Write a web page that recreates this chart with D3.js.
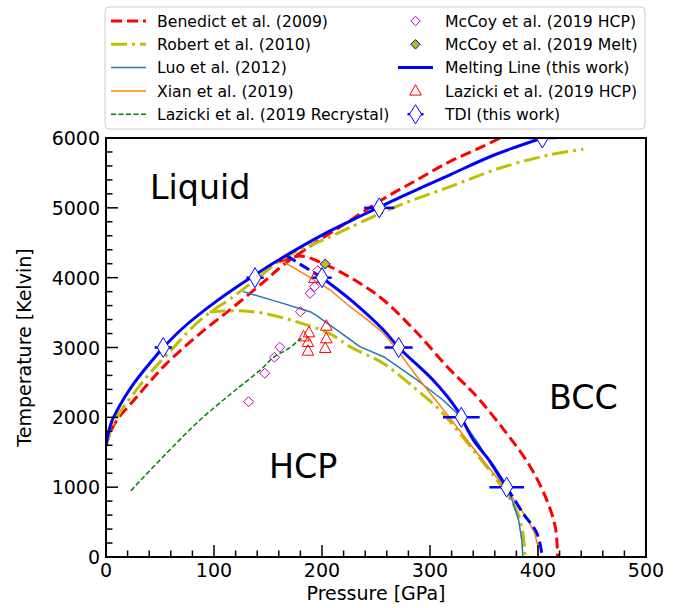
<!DOCTYPE html>
<html><head><meta charset="utf-8">
<script src="https://cdn.jsdelivr.net/npm/d3@7"></script>
<style>body{margin:0;background:#fff}svg{display:block;font-family:"DejaVu Sans",sans-serif}</style>
</head><body><svg id="c" width="684" height="608"></svg>
<script>
// ---- data: [pressure GPa, temperature K] ----
const benedictMelt = [[0,1600],[5,1820],[12,2000],[25,2230],[40,2500],[56,2770],[87,3200],[118,3580],[146,3940],[164,4180],[190,4460],[226,4820],[257,5130],[288,5400],[318,5660],[349,5880],[365,6000]];
const benedictHcpBcc = [[160,4230],[180,4310],[207,4160],[235,3920],[257,3680],[288,3210],[318,2690],[337,2400],[346,2250],[371,1770],[393,1290],[408,820],[416,430],[418,50],[418,0]];
const robertMelt = [[0,1600],[5,1840],[12,2050],[25,2330],[40,2620],[56,2890],[87,3390],[118,3730],[140,3990],[167,4300],[204,4560],[226,4720],[272,5040],[318,5300],[365,5570],[411,5760],[442,5840]];
const robertHcpBcc = [[96,3510],[124,3525],[146,3490],[176,3370],[207,3200],[226,3010],[257,2770],[288,2390],[309,2105],[340,1530],[362,1100],[380,670],[386,340],[388,0]];
const luo = [[127,3800],[160,3650],[189,3513],[194,3466],[214,3250],[235,3012],[257,2868],[288,2535],[312,2248],[325,2058],[345,1620],[365,1103],[376,816],[382,530],[385,243],[386,0]];
const xian = [[164,4230],[185,4040],[207,3830],[226,3584],[241,3410],[257,3204],[272,2916],[288,2582],[315,2058],[340,1560],[371,960],[389,577],[397,339],[400,148],[400,0]];
const lazickiRecrystal = [[23,950],[56,1485],[87,1962],[118,2367],[143,2680],[156,2870],[167,2965],[181,3130]];
const meltThisWork = [[0,1590],[2,1760],[5,1930],[10,2090],[17,2280],[25,2470],[35,2670],[44,2840],[53,3000],[72,3290],[102,3660],[130,3960],[167,4320],[200,4610],[226,4810],[253,5010],[285,5240],[318,5470],[360,5760],[404,6000]];
const hcpBccDashedTop = [[167,4320],[180,4190],[200,4000]];
const hcpBccSolid = [[200,4000],[226,3690],[257,3250],[271,3000],[303,2530],[325,2110],[329,2000],[340,1680],[356,1360],[371,1000]];
const hcpBccDashedBottom = [[371,1000],[386,630],[399,340],[404,0]];
const mccoyHcp = [[132,2224],[147,2631],[156,2860],[161,3003],[180,3513],[189,3776],[193,3871],[196,4100]];
const mccoyMelt = [[203,4196]];
const lazickiHcp = [[183,3155],[188,3212],[187,3075],[187,2950],[204,3308],[204,3127],[203,2989],[193,3990]];
const tdiP = [53,138,200,253,404,271,329,371];
const tdiT = [3000,4000,4000,5000,6000,3000,2000,1000];
const tdiErr = [8,8,9,14,13,13,17,16];
const xTicks = [0,100,200,300,400,500];
const yTicks = [0,1000,2000,3000,4000,5000,6000];
const legendLabels = ["Benedict et al. (2009)","Robert et al. (2010)","Luo et al. (2012)","Xian et al. (2019)","Lazicki et al. (2019 Recrystal)","McCoy et al. (2019 HCP)","McCoy et al. (2019 Melt)","Melting Line (this work)","Lazicki et al. (2019 HCP)","TDI (this work)"];

const svg = d3.select("#c");
const L=106,R=646,T=138,B=557;
const x = d3.scaleLinear().domain([0,500]).range([L,R]);
const y = d3.scaleLinear().domain([0,6000]).range([B,T]);

svg.append("defs").append("clipPath").attr("id","clip").append("rect")
  .attr("x",L).attr("y",T).attr("width",R-L).attr("height",B-T);
const g = svg.append("g").attr("clip-path","url(#clip)");

const YEL="#bfbf00", MAG="#bf00bf";
const smooth = d3.line().x(d=>x(d[0])).y(d=>y(d[1])).curve(d3.curveCatmullRom.alpha(0.5));
const lin = d3.line().x(d=>x(d[0])).y(d=>y(d[1]));
const styles = {
  benedict:{stroke:"#ff0000",w:3,dash:"11,5"},
  robert:{stroke:YEL,w:3,dash:"16,5,3,5"},
  luo:{stroke:"#1f77b4",w:1.5,dash:null},
  xian:{stroke:"#ff7f0e",w:1.5,dash:null},
  green:{stroke:"#008000",w:1.5,dash:"5,2.5"},
  melt:{stroke:"#0000ff",w:3,dash:null},
  meltDash:{stroke:"#0000ff",w:3,dash:"11,5"}
};
function path(data, st, gen){
  g.append("path").attr("d",gen(data)).attr("fill","none").attr("stroke",st.stroke)
   .attr("stroke-width",st.w).attr("stroke-dasharray",st.dash).attr("stroke-linejoin","round");
}
path(benedictMelt,styles.benedict,smooth);
path(benedictHcpBcc,styles.benedict,smooth);
path(robertMelt,styles.robert,smooth);
path(robertHcpBcc,styles.robert,smooth);
path(luo,styles.luo,lin);
path(xian,styles.xian,lin);
path(lazickiRecrystal,styles.green,smooth);

function diamond(sel,cx,cy,hw,hh){ return sel.append("path").attr("d",`M${cx},${cy-hh}L${cx+hw},${cy}L${cx},${cy+hh}L${cx-hw},${cy}Z`); }
function tri(sel,cx,cy,s){ return sel.append("path").attr("d",`M${cx},${cy-s*0.6}L${cx+s*0.55},${cy+s*0.4}L${cx-s*0.55},${cy+s*0.4}Z`); }

mccoyHcp.forEach(d=>diamond(g,x(d[0]),y(d[1]),5,5).attr("fill","none").attr("stroke",MAG).attr("stroke-width",1));
path(meltThisWork,styles.melt,smooth);
path(hcpBccDashedTop,styles.meltDash,lin);
path(hcpBccSolid,styles.melt,smooth);
path(hcpBccDashedBottom,styles.meltDash,smooth);
mccoyMelt.forEach(d=>diamond(g,x(d[0]),y(d[1]),5,5).attr("fill",YEL).attr("stroke","#0000ff").attr("stroke-width",1));
lazickiHcp.forEach(d=>tri(g,x(d[0]),y(d[1]),10.5).attr("fill","none").attr("stroke","#ff0000").attr("stroke-width",1));
tdiP.forEach((p,i)=>{
  g.append("line").attr("x1",x(p-tdiErr[i])).attr("x2",x(p+tdiErr[i])).attr("y1",y(tdiT[i])).attr("y2",y(tdiT[i]))
   .attr("stroke","#0000ff").attr("stroke-width",2.5);
});
tdiP.forEach((p,i)=>diamond(g,x(p),y(tdiT[i]),6,10).attr("fill","#fff").attr("stroke","#0000ff").attr("stroke-width",1));

// region labels
[["Liquid",150,199],["HCP",269,478],["BCC",549,409]].forEach(t=>svg.append("text").attr("x",t[1]).attr("y",t[2]).attr("font-size",33.3).text(t[0]));

// axes
const ax = svg.append("g");
ax.append("rect").attr("x",L).attr("y",T).attr("width",R-L).attr("height",B-T).attr("fill","none").attr("stroke","#000").attr("stroke-width",2);
d3.range(0,501,20).forEach(v=>{const maj=v%100===0; ax.append("line").attr("x1",x(v)).attr("x2",x(v)).attr("y1",B).attr("y2",B-(maj?12:6.5)).attr("stroke","#000").attr("stroke-width",1.5);});
d3.range(0,6001,200).forEach(v=>{const maj=v%1000===0; ax.append("line").attr("y1",y(v)).attr("y2",y(v)).attr("x1",L).attr("x2",L+(maj?12:6.5)).attr("stroke","#000").attr("stroke-width",1.5);});
xTicks.forEach(v=>ax.append("text").attr("x",x(v)).attr("y",B+20).attr("text-anchor","middle").attr("font-size",19).text(v));
yTicks.forEach(v=>ax.append("text").attr("x",L-6).attr("y",y(v)+7).attr("text-anchor","end").attr("font-size",19).text(v));
ax.append("text").attr("x",(L+R)/2).attr("y",600).attr("text-anchor","middle").attr("font-size",19).text("Pressure [GPa]");
ax.append("text").attr("transform",`translate(31,${(T+B)/2}) rotate(-90)`).attr("text-anchor","middle").attr("font-size",19).text("Temperature [Kelvin]");

// legend
const lg = svg.append("g");
lg.append("rect").attr("x",105).attr("y",7).attr("width",540).attr("height",122).attr("rx",4).attr("fill","#fff").attr("fill-opacity",0.8).attr("stroke","#cccccc").attr("stroke-width",1);
const fs=15.7, rowY=i=>21+i*23.3;
const col=[{h0:111,h1:146,t:157},{h0:398,h1:433,t:445}];
legendLabels.forEach((lab,i)=>{
  const c=col[Math.floor(i/5)], yy=rowY(i%5), cx=(c.h0+c.h1)/2;
  const st=[styles.benedict,styles.robert,styles.luo,styles.xian,styles.green,null,null,styles.melt,null,null][i];
  if(st){ lg.append("line").attr("x1",c.h0).attr("x2",c.h1).attr("y1",yy).attr("y2",yy).attr("stroke",st.stroke).attr("stroke-width",st.w).attr("stroke-dasharray",st.dash); }
  if(i===5) diamond(lg,cx,yy,4.7,4.7).attr("fill","none").attr("stroke",MAG);
  if(i===6) diamond(lg,cx,yy,4.7,4.7).attr("fill",YEL).attr("stroke","#0000ff");
  if(i===8) tri(lg,cx,yy,10.5).attr("fill","none").attr("stroke","#ff0000");
  if(i===9){ lg.append("line").attr("x1",cx-8).attr("x2",cx+8).attr("y1",yy).attr("y2",yy).attr("stroke","#0000ff").attr("stroke-width",2.5);
    diamond(lg,cx,yy,6,9.5).attr("fill","#fff").attr("stroke","#0000ff"); }
  lg.append("text").attr("x",c.t).attr("y",yy+5.6).attr("font-size",fs).text(lab);
});
</script></body></html>
